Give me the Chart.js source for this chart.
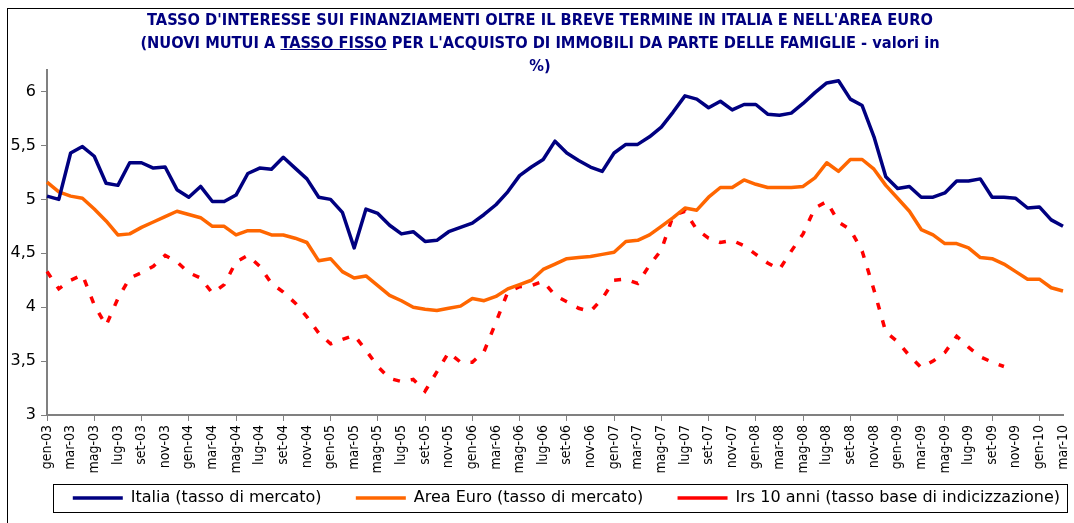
<!DOCTYPE html>
<html>
<head>
<meta charset="utf-8">
<script src="https://cdn.jsdelivr.net/npm/chart.js@4.4.1/dist/chart.umd.min.js"></script>
<style>
    body { margin: 0; background: #fff; }
    #wrap { position: relative; width: 1074px; height: 523px; overflow: hidden; background: #fff; }
    #frame { position: absolute; left: 7px; top: 8px; width: 1100px; height: 600px; border: 1px solid #000; }
    #title {
        position: absolute; left: 0; top: 8px; width: 1080px; text-align: center;
        font-family: 'DejaVu Sans Condensed', 'DejaVu Sans', sans-serif; font-weight: bold;
        font-size: 16.3px; line-height: 23px; color: #000080;
    }
    canvas { position: absolute; left: 0; top: 0; }
</style>
</head>
<body>
<div id="wrap">
    <div id="frame"></div>
    <canvas id="chart" width="1074" height="523"></canvas>
    <div id="title">
        TASSO D'INTERESSE SUI FINANZIAMENTI OLTRE IL BREVE TERMINE IN ITALIA E NELL'AREA EURO<br>
        (NUOVI MUTUI A <u>TASSO FISSO</u> PER L'ACQUISTO DI IMMOBILI DA PARTE DELLE FAMIGLIE - valori in<br>
        %)
    </div>
</div>
<script>
// categories: monthly, gen-03 .. mar-10
const monthNames = ['gen', 'feb', 'mar', 'apr', 'mag', 'giu', 'lug', 'ago', 'set', 'ott', 'nov', 'dic'];
const years = ['03', '04', '05', '06', '07', '08', '09', '10'];
const labels = [];
years.forEach(y => {
    monthNames.forEach(m => {
        if (labels.length < 87) labels.push(m + '-' + y);
    });
});

const italia = [
    5.03, 5.00, 5.43, 5.49, 5.40, 5.15, 5.13, 5.34, 5.34, 5.29,
    5.30, 5.09, 5.02, 5.12, 4.98, 4.98, 5.04, 5.24, 5.29, 5.28,
    5.39, 5.29, 5.19, 5.02, 5.00, 4.88, 4.55, 4.91, 4.87, 4.76,
    4.68, 4.70, 4.61, 4.62, 4.70, 4.74, 4.78, 4.86, 4.95, 5.07,
    5.22, 5.30, 5.37, 5.54, 5.43, 5.36, 5.30, 5.26, 5.43, 5.51,
    5.51, 5.58, 5.67, 5.81, 5.96, 5.93, 5.85, 5.91, 5.83, 5.88,
    5.88, 5.79, 5.78, 5.80, 5.89, 5.99, 6.08, 6.10, 5.93, 5.87,
    5.58, 5.21, 5.10, 5.12, 5.02, 5.02, 5.06, 5.17, 5.17, 5.19,
    5.02, 5.02, 5.01, 4.92, 4.93, 4.81, 4.75
];

const areaEuro = [
    5.16, 5.07, 5.03, 5.01, 4.91, 4.80, 4.67, 4.68, 4.74, 4.79,
    4.84, 4.89, 4.86, 4.83, 4.75, 4.75, 4.67, 4.71, 4.71, 4.67,
    4.67, 4.64, 4.60, 4.43, 4.45, 4.33, 4.27, 4.29, 4.20, 4.11,
    4.06, 4.00, 3.98, 3.97, 3.99, 4.01, 4.08, 4.06, 4.10, 4.17,
    4.21, 4.25, 4.35, 4.40, 4.45, 4.46, 4.47, 4.49, 4.51, 4.61,
    4.62, 4.67, 4.75, 4.83, 4.92, 4.90, 5.02, 5.11, 5.11, 5.18,
    5.14, 5.11, 5.11, 5.11, 5.12, 5.20, 5.34, 5.26, 5.37, 5.37,
    5.28, 5.13, 5.01, 4.89, 4.72, 4.67, 4.59, 4.59, 4.55, 4.46,
    4.45, 4.40, 4.33, 4.26, 4.26, 4.18, 4.15
];

const irs = [
    4.33, 4.17, 4.25, 4.30, 4.02, 3.83, 4.08, 4.27, 4.32, 4.38,
    4.48, 4.42, 4.32, 4.27, 4.13, 4.21, 4.42, 4.48, 4.38, 4.22,
    4.14, 4.04, 3.91, 3.76, 3.66, 3.70, 3.74, 3.60, 3.45, 3.34,
    3.31, 3.33, 3.22, 3.40, 3.58, 3.49, 3.49, 3.59, 3.86, 4.14,
    4.19, 4.20, 4.24, 4.11, 4.05, 3.99, 3.96, 4.08, 4.25, 4.26,
    4.22, 4.39, 4.53, 4.85, 4.89, 4.72, 4.64, 4.60, 4.62, 4.57,
    4.49, 4.41, 4.35, 4.52, 4.68, 4.92, 4.98, 4.79, 4.72, 4.52,
    4.16, 3.77, 3.68, 3.55, 3.44, 3.50, 3.58, 3.73, 3.63, 3.54,
    3.49, 3.45, null, null, null, null, null
];

const yMin = 3;
const yMax = 6.2;
const yStep = 0.5;

Chart.defaults.font.family = "'DejaVu Sans Condensed', 'DejaVu Sans', sans-serif";
Chart.defaults.color = '#000';

// border around the legend, sized from the legend's own hit boxes
const legendBox = {
    id: 'legendBox',
    afterDraw(chart) {
        const boxes = chart.legend.legendHitBoxes;
        if (!boxes || !boxes.length) return;
        const last = boxes[boxes.length - 1];
        const left = boxes[0].left - 20;
        const right = last.left + last.width + 7;
        const top = boxes[0].top - 6;
        const bottom = boxes[0].top + boxes[0].height + 6;
        const ctx = chart.ctx;
        ctx.save();
        ctx.strokeStyle = '#000';
        ctx.lineWidth = 1;
        ctx.strokeRect(Math.round(left) + 0.5, Math.round(top) + 0.5, Math.round(right - left), Math.round(bottom - top));
        ctx.restore();
    }
};

const axisColor = '#808080';

new Chart(document.getElementById('chart'), {
    type: 'line',
    data: {
        labels: labels,
        datasets: [{
            label: 'Italia (tasso di mercato)',
            data: italia,
            borderColor: '#000080',
            backgroundColor: '#000080',
            borderWidth: 3.5,
            pointRadius: 0,
            borderJoinStyle: 'round'
        }, {
            label: 'Area Euro (tasso di mercato)',
            data: areaEuro,
            borderColor: '#FF6600',
            backgroundColor: '#FF6600',
            borderWidth: 3.5,
            pointRadius: 0,
            borderJoinStyle: 'round'
        }, {
            label: 'Irs 10 anni (tasso base di indicizzazione)',
            data: irs,
            borderColor: '#FF0000',
            backgroundColor: '#FF0000',
            borderWidth: 3.5,
            borderDash: [7, 11],
            pointRadius: 0,
            spanGaps: false
        }]
    },
    options: {
        responsive: false,
        animation: false,
        layout: { padding: { top: 70, right: 0, bottom: 7, left: 0 } },
        plugins: {
            legend: {
                position: 'bottom',
                align: 'end',
                labels: {
                    usePointStyle: true,
                    pointStyle: 'line',
                    pointStyleWidth: 50,
                    boxHeight: 16,
                    padding: 14,
                    font: { family: "'DejaVu Sans', sans-serif", size: 16 },
                    color: '#000',
                    // wider gaps between entries, as in the original legend
                    generateLabels: chart => {
                        const items = Chart.defaults.plugins.legend.labels.generateLabels(chart);
                        items.forEach((item, i) => {
                            if (i < items.length - 1) item.text += '    ';
                        });
                        return items;
                    }
                }
            },
            tooltip: { enabled: false }
        },
        scales: {
            x: {
                grid: {
                    drawOnChartArea: false,
                    drawTicks: true,
                    tickLength: 6,
                    color: c => c.index % 2 === 0 ? axisColor : 'rgba(0,0,0,0)'
                },
                border: { color: axisColor, width: 2 },
                ticks: {
                    autoSkip: false,
                    maxRotation: 90,
                    minRotation: 90,
                    padding: 4,
                    font: { size: 14 },
                    callback: (v, i) => i % 2 === 0 ? labels[i] : null
                },
                afterFit: s => {
                    s.height = 61;
                    s.paddingLeft = 0;
                    s.paddingRight = 11;
                }
            },
            y: {
                min: yMin,
                max: yMax,
                grid: {
                    drawOnChartArea: false,
                    drawTicks: true,
                    tickLength: 6,
                    color: axisColor
                },
                border: { color: axisColor, width: 2 },
                ticks: {
                    stepSize: yStep,
                    includeBounds: false,
                    padding: 5,
                    font: { family: "'DejaVu Sans', sans-serif", size: 16 },
                    callback: v => String(v).replace('.', ',')
                },
                afterFit: s => { s.width = 47; }
            }
        }
    },
    plugins: [legendBox]
});
</script>
</body>
</html>
